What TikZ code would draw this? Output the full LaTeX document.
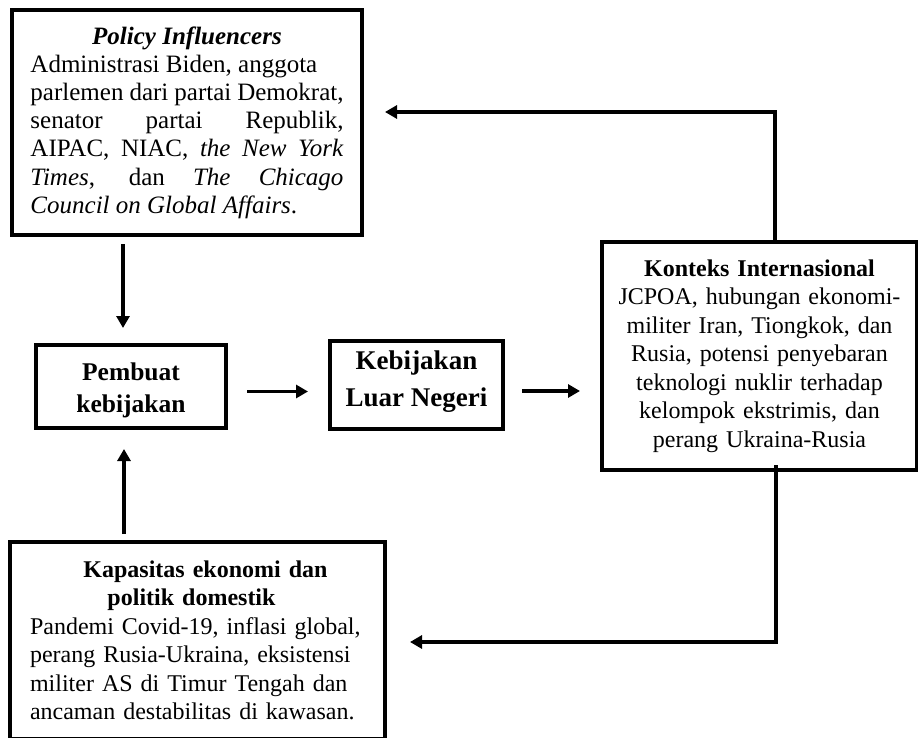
\documentclass[tikz,border=0pt]{standalone}
\usepackage{fontspec}
\setmainfont{Liberation Serif}
\usetikzlibrary{arrows.meta}

\begin{document}
\begin{tikzpicture}[x=1pt,y=-1pt,
    box/.style={draw,line width=4pt,inner sep=0pt,font=\fontsize{24}{28.5}\selectfont},
    keybox/.style={box,align=center},
    arr/.style={line width=3.5pt,-{Triangle[length=12pt,width=13pt]}}]
    % Page size
    \useasboundingbox (0,0) rectangle (918,738);
    % Policy influencers (top left)
    \node[box,minimum width=350pt,minimum height=225pt,text width=313pt,align=justify,
          font=\fontsize{25}{28.2}\selectfont] (influencer) at (187,122.5)
        {{\centering\textbf{\textit{Policy Influencers}}\par}
         Administrasi Biden, anggota\newline
         parlemen dari partai Demokrat,\linebreak
         senator partai Republik,\linebreak
         AIPAC, NIAC, \textit{the New York}\linebreak
         \textit{Times}, dan \textit{The Chicago}\linebreak
         \textit{Council on Global Affairs}.};
    % Middle row
    \node[keybox,minimum width=190pt,minimum height=83pt,text height=58pt,font=\fontsize{25.5}{32}\selectfont\bfseries]
        (pembuat) at (131,386.5) {Pembuat\\kebijakan};
    \node[keybox,minimum width=173pt,minimum height=88pt,text depth=12pt,font=\fontsize{27}{37}\selectfont\bfseries]
        (kebijakan) at (416.5,385) {Kebijakan\\Luar Negeri};
    % International context (right)
    \node[box,minimum width=315pt,minimum height=228pt,text width=300pt,align=center] (konteks) at (759.5,356)
        {\textbf{Konteks Internasional}\\
         JCPOA, hubungan ekonomi-\\
         militer Iran, Tiongkok, dan\\
         Rusia, potensi penyebaran\\
         teknologi nuklir terhadap\\
         kelompok ekstrimis, dan\\
         perang Ukraina-Rusia};
    % Domestic capacity (bottom left)
    \node[box,minimum width=375pt,minimum height=197pt,text width=335pt,align=left] (kapasitas) at (197.5,640.5)
        {{\centering\hspace*{16pt}\textbf{Kapasitas ekonomi dan}\\\textbf{politik domestik}\hspace*{12pt}\par}
         Pandemi Covid-19, inflasi global,\\
         perang Rusia-Ukraina, eksistensi\\
         militer AS di Timur Tengah dan\\
         ancaman destabilitas di kawasan.};
    % Arrows into the policy maker
    \draw[arr,shorten <=7pt,shorten >=15pt] ([xshift=-8pt]pembuat.north |- influencer.south) -- ([xshift=-8pt]pembuat.north);
    \draw[arr,shorten <=6pt,shorten >=19pt] ([xshift=-7pt]pembuat.south |- kapasitas.north) -- ([xshift=-7pt]pembuat.south);
    % Arrows along the middle row
    \draw[arr,shorten <=19pt,shorten >=20pt] ([yshift=-5pt]pembuat.east) -- ([yshift=-5pt]pembuat.east -| kebijakan.west);
    \draw[arr,shorten <=17pt,shorten >=20pt] ([yshift=-6pt]kebijakan.east) -- ([yshift=-6pt]kebijakan.east -| konteks.west);
    % Feedback loops from the international context
    \draw[arr,shorten >=21pt] ([xshift=15.5pt]konteks.north) |- ([yshift=10.5pt]influencer.east);
    \draw[arr,shorten <=-7pt,shorten >=23pt] ([xshift=16.5pt]konteks.south) |- ([yshift=-1.5pt]kapasitas.east);
\end{tikzpicture}
\end{document}
